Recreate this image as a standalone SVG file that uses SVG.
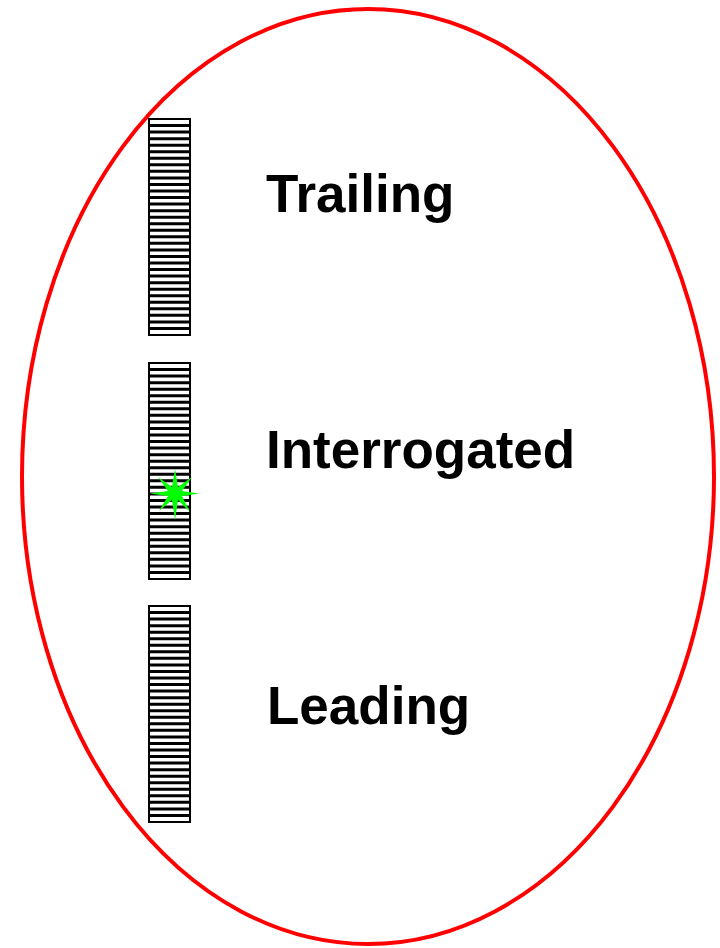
<svg xmlns="http://www.w3.org/2000/svg" width="720" height="948" viewBox="0 0 720 948">
  <defs>
    <style>
      .label { font-family: "Liberation Sans", Arial, Helvetica, sans-serif; font-weight: bold; font-size: 53px; fill: #000; }
      .frame { fill: #fff; stroke: #000; stroke-width: 2; }
      .stripes { stroke: #000; stroke-width: 3; fill: none; }
    </style>
    <!-- one striped strip: outline plus 32 horizontal bars -->
    <g id="strip">
      <rect class="frame" x="0" y="0" width="41" height="216"/>
      <path class="stripes" d="M0 6.55H41M0 13.09H41M0 19.64H41M0 26.18H41M0 32.73H41M0 39.27H41M0 45.82H41M0 52.36H41M0 58.91H41M0 65.45H41M0 72H41M0 78.55H41M0 85.09H41M0 91.64H41M0 98.18H41M0 104.73H41M0 111.27H41M0 117.82H41M0 124.36H41M0 130.91H41M0 137.45H41M0 144H41M0 150.55H41M0 157.09H41M0 163.64H41M0 170.18H41M0 176.73H41M0 183.27H41M0 189.82H41M0 196.36H41M0 202.91H41M0 209.45H41"/>
    </g>
  </defs>

  <rect width="720" height="948" fill="#fff"/>

  <!-- enclosing ellipse -->
  <ellipse cx="368" cy="476.5" rx="346" ry="467.5" fill="none" stroke="#ff0000" stroke-width="4"/>

  <g id="trailing">
    <use href="#strip" x="149" y="119"/>
    <text class="label" x="266" y="212">Trailing</text>
  </g>

  <g id="interrogated">
    <use href="#strip" x="149" y="363"/>
    <!-- eight-pointed marker -->
    <polygon fill="#00ff00" points="175,469 178,487 192,477 182,491 199,493.5 182,496 190,512 178,500 175,520 172,500 159,511 168,496 150,493.5 168,491 158,477 172,487"/>
    <text class="label" x="266" y="468">Interrogated</text>
  </g>

  <g id="leading">
    <use href="#strip" x="149" y="606"/>
    <text class="label" x="267" y="724">Leading</text>
  </g>
</svg>
